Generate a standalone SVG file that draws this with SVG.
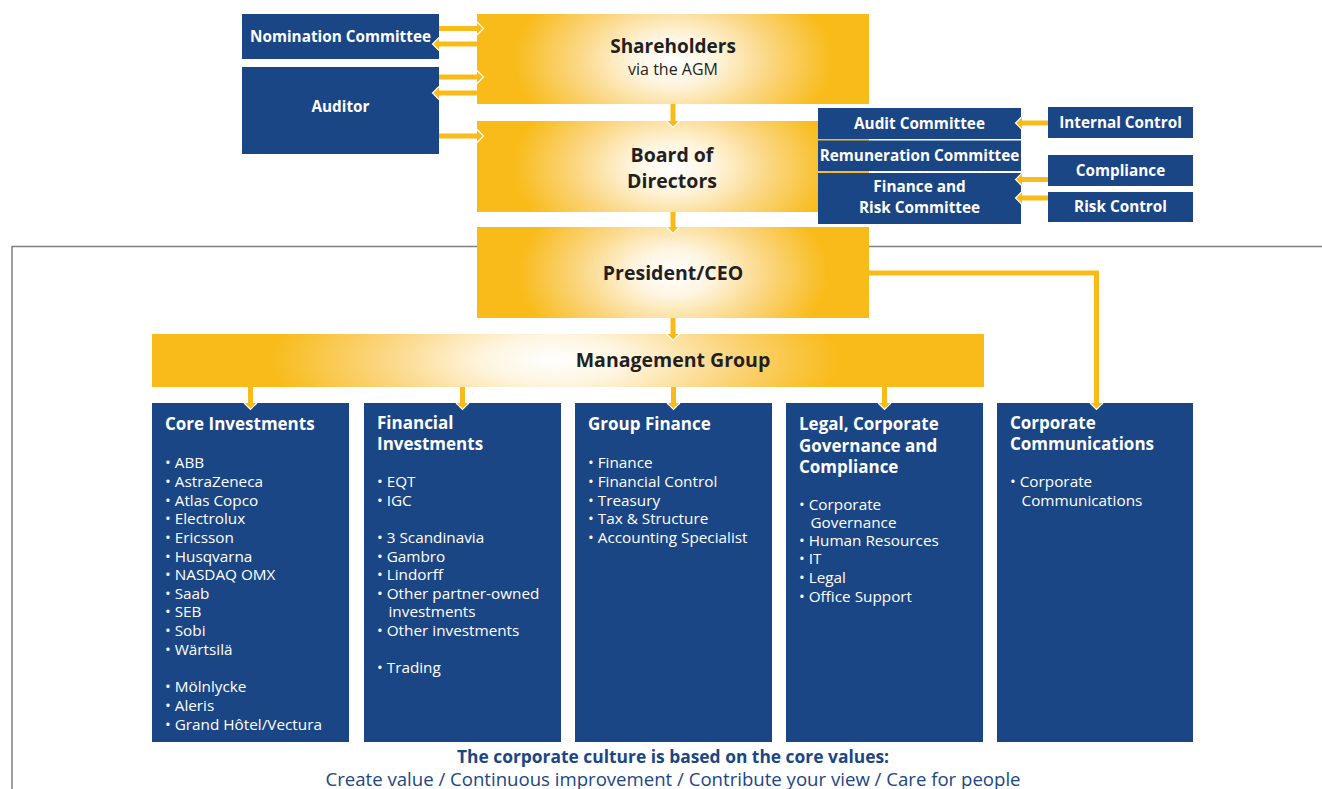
<svg xmlns="http://www.w3.org/2000/svg" xmlns:xlink="http://www.w3.org/1999/xlink" width="1322" height="789" viewBox="0 0 1322 789">
  <defs>
    <!-- soft white glow inside the yellow governance boxes -->
    <radialGradient id="glow" gradientUnits="userSpaceOnUse" cx="0" cy="0" r="1">
      <stop offset="0" stop-color="#FFFFFF"/>
      <stop offset="0.25" stop-color="#FEF5E0"/>
      <stop offset="0.62" stop-color="#FBD57E"/>
      <stop offset="1" stop-color="#F8BB19"/>
    </radialGradient>
    <radialGradient id="glowShareholders" xlink:href="#glow" gradientTransform="translate(673 60) scale(160 95)"/>
    <radialGradient id="glowBoard" xlink:href="#glow" gradientTransform="translate(673 167) scale(160 95)"/>
    <radialGradient id="glowCeo" xlink:href="#glow" gradientTransform="translate(673 273) scale(155 95)"/>
    <radialGradient id="glowMgmt" xlink:href="#glow" gradientTransform="translate(555 360) scale(285 95)"/>
    <marker id="head" markerUnits="userSpaceOnUse" markerWidth="10" markerHeight="16" viewBox="0 -8 10 16" refX="0" refY="0" orient="auto" overflow="visible">
      <path d="M0,-6.5 L6.5,0 L0,6.5" fill="#F8BB19" stroke="#FFFFFF" stroke-width="1.2"/>
    </marker>
    <style>
      .blue { fill: #1B4685; }
      .ytitle { font-family: "Open Sans", "Noto Sans", sans-serif; font-weight: 700; fill: #231F20; text-anchor: middle; }
      .ysub { font-family: "Open Sans", "Noto Sans", sans-serif; font-weight: 400; fill: #231F20; text-anchor: middle; font-size: 16px; }
      .blabel { font-family: "Open Sans", "Noto Sans", sans-serif; font-weight: 700; fill: #FFFFFF; text-anchor: middle; font-size: 15.3px; }
      .htitle { font-family: "Open Sans", "Noto Sans", sans-serif; font-weight: 700; fill: #FFFFFF; font-size: 17px; }
      .item { font-family: "Open Sans", "Noto Sans", sans-serif; font-weight: 400; fill: #FFFFFF; font-size: 15.3px; }
      .conn { fill: none; stroke: #F8BB19; stroke-width: 5; marker-end: url(#head); }
      .frame { fill: none; stroke: #808080; stroke-width: 1.5; }
      .foot { font-family: "Open Sans", "Noto Sans", sans-serif; fill: #1B4685; text-anchor: middle; }
    </style>
  </defs>

  <rect width="1322" height="789" fill="#FFFFFF"/>

  <!-- company boundary -->
  <path class="frame" d="M12,789 L12,246.5 L1322,246.5"/>

  <!-- governance -->
  <g id="nomination-committee">
    <rect class="blue" x="242" y="14" width="197" height="45"/>
    <text class="blabel" x="340.5" y="41.5">Nomination Committee</text>
  </g>
  <g id="auditor">
    <rect class="blue" x="242" y="67" width="197" height="87"/>
    <text class="blabel" x="340.5" y="112">Auditor</text>
  </g>
  <g id="shareholders">
    <rect x="477" y="14" width="392" height="90" fill="url(#glowShareholders)"/>
    <text class="ytitle" x="673" y="52.5" font-size="19">Shareholders</text>
    <text class="ysub" x="673" y="75">via the AGM</text>
  </g>
  <g id="board">
    <rect x="477" y="121" width="392" height="91" fill="url(#glowBoard)"/>
    <text class="ytitle" x="672" y="162" font-size="19.5">Board of</text>
    <text class="ytitle" x="672" y="188" font-size="19.5">Directors</text>
  </g>
  <g id="audit-committee">
    <rect class="blue" x="818" y="108" width="203" height="31"/>
    <text class="blabel" x="919.5" y="128.5">Audit Committee</text>
  </g>
  <g id="remuneration-committee">
    <rect class="blue" x="818" y="140.5" width="203" height="30.5"/>
    <text class="blabel" x="919.5" y="161" font-size="14.8">Remuneration Committee</text>
  </g>
  <g id="finance-risk-committee">
    <rect class="blue" x="818" y="173" width="203" height="51"/>
    <text class="blabel" x="919.5" y="191.5">Finance and</text>
    <text class="blabel" x="919.5" y="212.5">Risk Committee</text>
  </g>
  <g id="internal-control">
    <rect class="blue" x="1048" y="107" width="145" height="31"/>
    <text class="blabel" x="1120.5" y="128">Internal Control</text>
  </g>
  <g id="compliance">
    <rect class="blue" x="1048" y="155" width="145" height="31"/>
    <text class="blabel" x="1120.5" y="175.5">Compliance</text>
  </g>
  <g id="risk-control">
    <rect class="blue" x="1048" y="192" width="145" height="30"/>
    <text class="blabel" x="1120.5" y="212">Risk Control</text>
  </g>

  <!-- management -->
  <g id="president-ceo">
    <rect x="477" y="227" width="392" height="91" fill="url(#glowCeo)"/>
    <text class="ytitle" x="673" y="280" font-size="19.5">President/CEO</text>
  </g>
  <g id="management-group">
    <rect x="152" y="334" width="832" height="53" fill="url(#glowMgmt)"/>
    <text class="ytitle" x="673" y="367" font-size="19.5">Management Group</text>
  </g>

  <g id="core-investments">
    <rect class="blue" x="152" y="403" width="197" height="339"/>
    <text class="htitle" x="165" y="430">Core Investments</text>
    <text class="item">
      <tspan x="165" y="468">• ABB</tspan>
      <tspan x="165" y="487">• AstraZeneca</tspan>
      <tspan x="165" y="505.5">• Atlas Copco</tspan>
      <tspan x="165" y="524">• Electrolux</tspan>
      <tspan x="165" y="543">• Ericsson</tspan>
      <tspan x="165" y="561.5">• Husqvarna</tspan>
      <tspan x="165" y="580">• NASDAQ OMX</tspan>
      <tspan x="165" y="599">• Saab</tspan>
      <tspan x="165" y="617">• SEB</tspan>
      <tspan x="165" y="636">• Sobi</tspan>
      <tspan x="165" y="654.5">• Wärtsilä</tspan>
      <tspan x="165" y="692">• Mölnlycke</tspan>
      <tspan x="165" y="711">• Aleris</tspan>
      <tspan x="165" y="729.5">• Grand Hôtel/Vectura</tspan>
    </text>
  </g>

  <g id="financial-investments">
    <rect class="blue" x="364" y="403" width="197" height="339"/>
    <text class="htitle" x="377" y="429">Financial</text>
    <text class="htitle" x="377" y="449.5">Investments</text>
    <text class="item">
      <tspan x="377" y="487">• EQT</tspan>
      <tspan x="377" y="505.5">• IGC</tspan>
      <tspan x="377" y="543">• 3 Scandinavia</tspan>
      <tspan x="377" y="561.5">• Gambro</tspan>
      <tspan x="377" y="580">• Lindorff</tspan>
      <tspan x="377" y="599">• Other partner-owned</tspan>
      <tspan x="388.5" y="617">investments</tspan>
      <tspan x="377" y="636">• Other investments</tspan>
      <tspan x="377" y="673">• Trading</tspan>
    </text>
  </g>

  <g id="group-finance">
    <rect class="blue" x="575" y="403" width="197" height="339"/>
    <text class="htitle" x="588" y="430">Group Finance</text>
    <text class="item">
      <tspan x="588" y="468">• Finance</tspan>
      <tspan x="588" y="487">• Financial Control</tspan>
      <tspan x="588" y="505.5">• Treasury</tspan>
      <tspan x="588" y="524">• Tax &amp; Structure</tspan>
      <tspan x="588" y="543">• Accounting Specialist</tspan>
    </text>
  </g>

  <g id="legal-governance-compliance">
    <rect class="blue" x="786" y="403" width="197" height="339"/>
    <text class="htitle" x="799" y="430">Legal, Corporate</text>
    <text class="htitle" x="799" y="451.5">Governance and</text>
    <text class="htitle" x="799" y="473">Compliance</text>
    <text class="item">
      <tspan x="799" y="510">• Corporate</tspan>
      <tspan x="810.5" y="528">Governance</tspan>
      <tspan x="799" y="546">• Human Resources</tspan>
      <tspan x="799" y="564">• IT</tspan>
      <tspan x="799" y="583">• Legal</tspan>
      <tspan x="799" y="602">• Office Support</tspan>
    </text>
  </g>

  <g id="corporate-communications">
    <rect class="blue" x="997" y="403" width="196" height="339"/>
    <text class="htitle" x="1010" y="429">Corporate</text>
    <text class="htitle" x="1010" y="449.5">Communications</text>
    <text class="item">
      <tspan x="1010" y="487">• Corporate</tspan>
      <tspan x="1021.5" y="506">Communications</tspan>
    </text>
  </g>

  <!-- connectors -->
  <g id="connectors">
    <line class="conn" x1="439" y1="28.5" x2="477" y2="28.5"/>
    <line class="conn" x1="477" y1="44" x2="439" y2="44"/>
    <line class="conn" x1="439" y1="77" x2="477" y2="77"/>
    <line class="conn" x1="477" y1="93" x2="439" y2="93"/>
    <line class="conn" x1="439" y1="136" x2="477" y2="136"/>
    <line class="conn" x1="673" y1="104" x2="673" y2="121"/>
    <line class="conn" x1="673" y1="212" x2="673" y2="227"/>
    <line class="conn" x1="673" y1="318" x2="673" y2="334"/>
    <line class="conn" x1="1048" y1="123" x2="1022" y2="123"/>
    <line class="conn" x1="1048" y1="179.5" x2="1022" y2="179.5"/>
    <line class="conn" x1="1048" y1="198" x2="1022" y2="198"/>
    <line class="conn" x1="250.5" y1="387" x2="250.5" y2="403"/>
    <line class="conn" x1="462.5" y1="387" x2="462.5" y2="403"/>
    <line class="conn" x1="673.5" y1="387" x2="673.5" y2="403"/>
    <line class="conn" x1="884.5" y1="387" x2="884.5" y2="403"/>
    <path class="conn" d="M869,273 L1096.5,273 L1096.5,403"/>
  </g>

  <!-- core values -->
  <text class="foot" x="673" y="763" font-size="17.4" font-weight="700">The corporate culture is based on the core values:</text>
  <text class="foot" x="673" y="786" font-size="18.6">Create value / Continuous improvement / Contribute your view / Care for people</text>
</svg>
